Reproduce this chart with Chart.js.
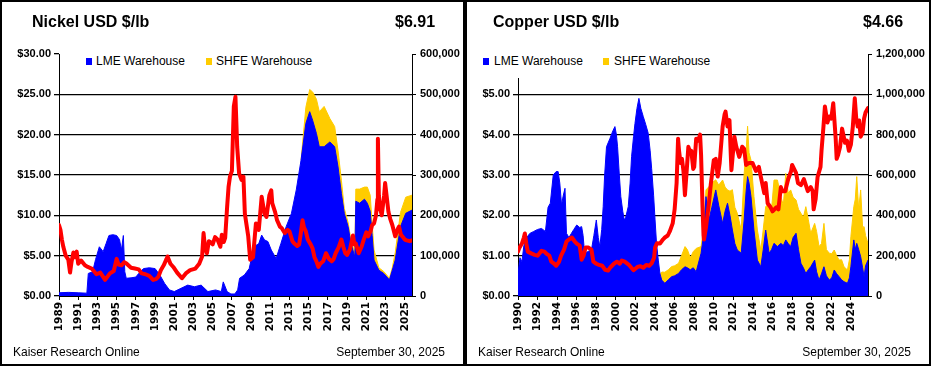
<!DOCTYPE html>
<html>
<head>
<meta charset="utf-8">
<script src="https://cdn.jsdelivr.net/npm/chart.js@4.4.0/dist/chart.umd.min.js"></script>
<style>
  body { margin: 0; background: #fff; font-family: "Liberation Sans", Arial, sans-serif; }
  .panel { position: absolute; top: 0; height: 366px; box-sizing: border-box; border: 2px solid #000; background: #fff; }
  canvas { position: absolute; top: 0; }
  .txt { position: absolute; color: #000; white-space: nowrap; }
  .title { font-size: 16px; font-weight: bold; line-height: 20px; top: 12px; }
  .foot { font-size: 12px; line-height: 14px; top: 345px; }
  .legend { position: absolute; background: #fff; font-size: 12px; line-height: 14px; height: 30px; }
  .legend span.box { position: absolute; width: 6px; height: 7px; top: 11px; }
  .legend span.lab { position: absolute; top: 7px; }
</style>
</head>
<body>
<div class="panel" style="left:0;width:465px"></div>
<div class="panel" style="left:465px;width:466px"></div>
<canvas id="nickel" width="465" height="366" style="left:0"></canvas>
<canvas id="copper" width="466" height="366" style="left:465px"></canvas>

<div class="txt title" style="left:32px">Nickel USD $/lb</div>
<div class="txt title" style="left:395px">$6.91</div>
<div class="txt foot" style="left:13px">Kaiser Research Online</div>
<div class="txt foot" style="right:486px">September 30, 2025</div>
<div class="legend" style="left:80px;top:47px;width:235px">
  <span class="box" style="left:6px;background:#0000ff"></span><span class="lab" style="left:16px">LME Warehouse</span>
  <span class="box" style="left:126px;background:#ffcc00"></span><span class="lab" style="left:136px">SHFE Warehouse</span>
</div>

<div class="txt title" style="left:493px">Copper USD $/lb</div>
<div class="txt title" style="left:863px">$4.66</div>
<div class="txt foot" style="left:478px">Kaiser Research Online</div>
<div class="txt foot" style="right:20px">September 30, 2025</div>
<div class="legend" style="left:477px;top:47px;width:235px;height:31px">
  <span class="box" style="left:6px;background:#0000ff"></span><span class="lab" style="left:17px">LME Warehouse</span>
  <span class="box" style="left:126px;background:#ffcc00"></span><span class="lab" style="left:137px">SHFE Warehouse</span>
</div>

<script>
// ---- Nickel ----
const nickelTicks = [1989, 1991, 1993, 1995, 1997, 1999, 2001, 2003, 2005, 2007, 2009, 2011, 2013, 2015, 2017, 2019, 2021, 2023, 2025];

const nickelPriceYears = [1989.0, 1989.15, 1989.3, 1989.45, 1989.7, 1989.97, 1990.15, 1990.3, 1990.5, 1990.7,
  1990.84, 1991.0, 1991.3, 1991.7, 1992.0, 1992.4, 1992.9, 1993.3, 1993.8, 1994.3,
  1994.7, 1995.0, 1995.2, 1995.5, 1995.8, 1996.05, 1996.5, 1996.9, 1997.3, 1997.6,
  1998.0, 1998.4, 1998.8, 1999.1, 1999.35, 1999.6, 1999.9, 2000.2, 2000.3, 2000.6,
  2000.9, 2001.3, 2001.8, 2002.2, 2002.65, 2003.2, 2003.6, 2003.9, 2004.05, 2004.2,
  2004.4, 2004.6, 2004.75, 2005.0, 2005.25, 2005.5, 2005.8, 2005.95, 2006.15, 2006.3,
  2006.5, 2006.65, 2006.8, 2007.0, 2007.2, 2007.37, 2007.45, 2007.55, 2007.75, 2008.0,
  2008.2, 2008.35, 2008.5, 2008.7, 2008.9, 2009.2, 2009.5, 2009.8, 2010.1, 2010.4,
  2010.6, 2010.9, 2011.1, 2011.2, 2011.5, 2011.7, 2012.0, 2012.2, 2012.5, 2012.8,
  2013.0, 2013.3, 2013.5, 2013.8, 2014.0, 2014.2, 2014.35, 2014.5, 2014.7, 2014.9,
  2015.2, 2015.4, 2015.6, 2015.8, 2016.0, 2016.2, 2016.5, 2016.8, 2017.1, 2017.4,
  2017.6, 2017.8, 2018.1, 2018.4, 2018.6, 2018.8, 2019.0, 2019.3, 2019.6, 2019.75,
  2019.9, 2020.2, 2020.5, 2020.7, 2021.0, 2021.2, 2021.45, 2021.6, 2021.8, 2022.0,
  2022.15, 2022.2, 2022.3, 2022.4, 2022.6, 2022.85, 2022.95, 2023.1, 2023.3, 2023.5,
  2023.7, 2024.0, 2024.3, 2024.4, 2024.6, 2024.8, 2025.0, 2025.2, 2025.5, 2025.75];
const nickelPrice = [8.8, 8.2, 7.0, 6.1, 5.0, 4.5, 2.9, 4.2, 5.4, 4.8,
  5.5, 4.0, 4.4, 3.8, 3.6, 3.4, 2.7, 2.9, 2.0, 2.8,
  3.1, 4.6, 3.9, 3.8, 4.2, 4.0, 3.5, 3.4, 3.3, 2.8,
  2.7, 2.5, 2.0, 2.1, 2.4, 3.2, 3.8, 4.6, 4.9, 4.0,
  3.6, 2.9, 2.2, 2.8, 3.2, 3.4, 4.0, 4.9, 7.8, 6.0,
  5.3, 6.8, 6.7, 6.4, 7.3, 7.0, 6.1, 7.6, 6.7, 7.2,
  11.0, 13.5, 14.8, 15.5, 23.5, 24.7, 22.0, 18.5, 15.2, 14.4,
  14.8, 10.2, 9.0, 7.4, 4.5, 4.8, 9.0, 8.2, 12.3, 10.2,
  9.8, 12.5, 13.1, 11.5, 10.4, 9.4, 8.6, 8.4, 7.8, 8.2,
  8.0, 6.8, 6.5, 6.2, 6.4, 8.0, 9.4, 8.5, 8.0, 7.0,
  6.4, 5.9, 4.8, 4.3, 3.6, 4.0, 4.3, 5.3, 4.6, 4.3,
  4.6, 5.3, 6.0, 7.0, 6.1, 5.3, 5.1, 5.8, 7.5, 6.4,
  6.5, 5.3, 6.1, 6.9, 7.9, 7.4, 8.1, 8.8, 9.0, 10.0,
  12.0, 19.5, 12.5, 11.0, 10.0, 12.5, 14.0, 12.5, 10.4, 9.5,
  8.8, 7.4, 8.4, 8.6, 7.6, 7.3, 7.0, 6.9, 6.8, 6.91];

const nickelStockYears = [1989.0, 1990.0, 1991.0, 1991.9, 1992.05, 1992.5, 1992.8, 1993.2, 1993.6, 1993.9,
  1994.2, 1994.6, 1995.0, 1995.3, 1995.5, 1995.7, 1995.85, 1996.0, 1996.5, 1997.0,
  1997.3, 1997.8, 1998.4, 1999.0, 1999.5, 2000.0, 2000.5, 2001.0, 2001.7, 2002.4,
  2003.1, 2003.8, 2004.5, 2005.3, 2005.9, 2006.1, 2006.5, 2006.9, 2007.3, 2007.6,
  2007.8, 2008.3, 2008.8, 2009.3, 2009.8, 2010.1, 2010.4, 2010.75, 2011.1, 2011.6,
  2012.1, 2012.65, 2013.2, 2013.7, 2014.2, 2014.7, 2015.1, 2015.4, 2015.8, 2016.1,
  2016.6, 2017.2, 2017.7, 2018.05, 2018.4, 2018.7, 2019.1, 2019.4, 2019.8, 2019.9,
  2020.3, 2020.8, 2021.1, 2021.4, 2021.6, 2021.8, 2022.3, 2022.8, 2023.4, 2023.7,
  2024.0, 2024.55, 2025.1, 2025.75];
const nickelLme = [8000, 9000, 8000, 7000, 56000, 60000, 90000, 122000, 110000, 130000,
  150000, 152000, 150000, 140000, 114000, 150000, 60000, 44000, 45000, 47000,
  56000, 68000, 70000, 68000, 52000, 31000, 15000, 11000, 19000, 27000,
  23000, 27000, 11000, 15000, 11000, 35000, 11000, 5000, 5000, 15000,
  44000, 52000, 68000, 122000, 130000, 151000, 139000, 135000, 114000, 93000,
  130000, 172000, 205000, 263000, 337000, 428000, 457000, 436000, 403000, 370000,
  370000, 382000, 370000, 320000, 254000, 205000, 172000, 130000, 97000, 235000,
  230000, 240000, 230000, 210000, 150000, 89000, 64000, 56000, 40000, 64000,
  89000, 172000, 205000, 213000];

const nickelShfeYears = [2014.2, 2014.7, 2015.1, 2015.4, 2015.8, 2016.1, 2016.6, 2017.2, 2017.7, 2018.05,
  2018.4, 2018.7, 2019.1, 2019.4, 2019.8, 2019.9, 2020.3, 2020.8, 2021.1, 2021.4,
  2021.6, 2021.8, 2022.3, 2022.8, 2023.4, 2023.7, 2024.0, 2024.55, 2025.1, 2025.75];
const nickelShfe = [0, 40000, 55000, 70000, 85000, 87000, 100000, 58000, 50000, 40000,
  33000, 12000, 10000, 8000, 10000, 30000, 35000, 30000, 40000, 40000,
  30000, 25000, 6000, 5000, 4000, 6000, 18000, 35000, 40000, 37000];

// ---- Copper ----
const copperTicks = [1990, 1992, 1994, 1996, 1998, 2000, 2002, 2004, 2006, 2008, 2010, 2012, 2014, 2016, 2018, 2020, 2022, 2024];

const copperPriceYears = [1990.0, 1990.15, 1990.4, 1990.6, 1990.7, 1990.85, 1991.0, 1991.4, 1991.7, 1992.0,
  1992.4, 1992.7, 1992.9, 1993.2, 1993.4, 1993.7, 1993.9, 1994.2, 1994.4, 1994.7,
  1994.95, 1995.2, 1995.5, 1995.8, 1996.0, 1996.3, 1996.5, 1996.7, 1996.9, 1997.2,
  1997.5, 1997.7, 1998.0, 1998.2, 1998.6, 1998.9, 1999.2, 1999.4, 1999.8, 2000.1,
  2000.4, 2000.6, 2000.9, 2001.3, 2001.8, 2002.2, 2002.5, 2002.8, 2003.1, 2003.4,
  2003.65, 2003.9, 2004.0, 2004.2, 2004.5, 2004.8, 2005.0, 2005.3, 2005.5, 2005.8,
  2006.0, 2006.2, 2006.35, 2006.45, 2006.6, 2006.75, 2006.9, 2007.05, 2007.2, 2007.4,
  2007.6, 2007.7, 2007.9, 2008.0, 2008.2, 2008.4, 2008.6, 2008.7, 2008.85, 2008.95,
  2009.0, 2009.2, 2009.5, 2009.7, 2010.0, 2010.2, 2010.4, 2010.6, 2010.9, 2011.1,
  2011.2, 2011.4, 2011.6, 2011.75, 2011.8, 2012.1, 2012.3, 2012.6, 2012.9, 2013.1,
  2013.3, 2013.6, 2013.95, 2014.3, 2014.6, 2014.8, 2015.15, 2015.3, 2015.5, 2015.8,
  2016.0, 2016.4, 2016.6, 2016.85, 2017.0, 2017.3, 2017.6, 2017.9, 2018.0, 2018.4,
  2018.6, 2018.9, 2019.2, 2019.4, 2019.6, 2019.9, 2020.1, 2020.2, 2020.4, 2020.6,
  2020.9, 2021.0, 2021.2, 2021.35, 2021.6, 2021.8, 2022.0, 2022.2, 2022.45, 2022.55,
  2022.7, 2022.9, 2023.1, 2023.4, 2023.6, 2023.8, 2024.0, 2024.2, 2024.4, 2024.55,
  2024.7, 2024.85, 2025.0, 2025.2, 2025.35, 2025.5, 2025.75];
const copperPrice = [1.10, 1.20, 1.30, 1.45, 1.55, 1.30, 1.10, 1.05, 1.02, 1.00,
  1.12, 1.10, 1.05, 1.00, 0.85, 0.80, 0.75, 0.85, 1.00, 1.15,
  1.35, 1.40, 1.45, 1.35, 1.30, 1.25, 0.90, 1.00, 1.20, 1.20,
  1.15, 0.85, 0.80, 0.78, 0.75, 0.65, 0.63, 0.70, 0.80, 0.85,
  0.80, 0.88, 0.85, 0.78, 0.64, 0.72, 0.74, 0.70, 0.77, 0.75,
  0.81, 0.95, 1.20, 1.31, 1.30, 1.40, 1.45, 1.50, 1.60, 1.80,
  2.15, 2.80, 3.90, 3.60, 3.30, 3.40, 3.10, 2.50, 3.00, 3.70,
  3.55, 3.60, 3.15, 3.20, 3.90, 3.85, 4.00, 3.50, 2.20, 1.50,
  1.40, 1.70, 2.30, 2.79, 3.37, 3.40, 2.96, 3.30, 4.20, 4.50,
  4.57, 4.20, 4.36, 3.40, 3.12, 3.95, 3.70, 3.45, 3.70, 3.65,
  3.25, 3.30, 3.30, 3.10, 3.20, 2.96, 2.55, 2.80, 2.30, 2.20,
  2.10, 2.20, 2.15, 2.70, 2.60, 2.60, 2.90, 3.10, 3.25, 3.05,
  2.80, 2.75, 2.90, 2.75, 2.60, 2.70, 2.60, 2.15, 2.40, 2.95,
  3.20, 3.60, 4.20, 4.70, 4.30, 4.45, 4.40, 4.78, 3.90, 3.40,
  3.50, 3.70, 4.15, 3.80, 3.85, 3.60, 3.75, 4.20, 4.90, 4.40,
  4.20, 4.35, 3.95, 4.05, 4.40, 4.55, 4.66];

const copperStockYears = [1990.0, 1990.2, 1990.4, 1990.6, 1990.9, 1991.2, 1991.6, 1992.0, 1992.4, 1992.8,
  1993.07, 1993.3, 1993.6, 1993.9, 1994.1, 1994.27, 1994.45, 1994.6, 1994.8, 1994.95,
  1995.2, 1995.46, 1995.7, 1996.0, 1996.3, 1996.5, 1996.65, 1996.8, 1997.1, 1997.5,
  1997.75, 1998.0, 1998.2, 1998.36, 1998.55, 1998.7, 1998.85, 1999.04, 1999.4, 1999.7,
  1999.9, 2000.05, 2000.17, 2000.35, 2000.5, 2000.7, 2000.85, 2001.0, 2001.26, 2001.45,
  2001.6, 2001.8, 2001.95, 2002.15, 2002.35, 2002.55, 2002.8, 2003.05, 2003.3, 2003.5,
  2003.65, 2003.85, 2004.0, 2004.15, 2004.33, 2004.5, 2004.68, 2005.0, 2005.35, 2005.7,
  2006.0, 2006.4, 2006.7, 2007.06, 2007.3, 2007.6, 2007.9, 2008.2, 2008.7, 2008.95,
  2009.2, 2009.5, 2009.8, 2010.2, 2010.5, 2010.9, 2011.15, 2011.4, 2011.65, 2011.9,
  2012.15, 2012.4, 2012.8, 2013.1, 2013.3, 2013.45, 2013.6, 2013.8, 2014.1, 2014.45,
  2014.8, 2015.05, 2015.3, 2015.65, 2015.9, 2016.15, 2016.5, 2016.85, 2017.1, 2017.35,
  2017.6, 2017.85, 2018.1, 2018.4, 2018.65, 2018.9, 2019.15, 2019.4, 2019.65, 2019.9,
  2020.3, 2020.5, 2020.75, 2021.0, 2021.25, 2021.5, 2021.8, 2022.05, 2022.3, 2022.55,
  2022.8, 2023.05, 2023.3, 2023.65, 2023.85, 2024.0, 2024.3, 2024.45, 2024.6, 2024.8,
  2025.0, 2025.2, 2025.35, 2025.5, 2025.75];
const copperLme = [110000, 190000, 170000, 250000, 290000, 310000, 320000, 330000, 335000, 320000,
  440000, 460000, 600000, 617000, 617000, 560000, 450000, 493000, 534000, 311000,
  290000, 311000, 330000, 352000, 340000, 344000, 300000, 212000, 220000, 228000,
  300000, 377000, 290000, 245000, 330000, 443000, 600000, 740000, 782000, 820000,
  840000, 800000, 740000, 600000, 493000, 420000, 377000, 390000, 443000, 560000,
  691000, 790000, 856000, 930000, 980000, 930000, 889000, 850000, 807000, 720000,
  633000, 500000, 377000, 260000, 178000, 110000, 79000, 63000, 80000, 96000,
  100000, 112000, 130000, 145000, 140000, 130000, 140000, 120000, 212000, 300000,
  493000, 377000, 440000, 526000, 450000, 360000, 420000, 460000, 400000, 327000,
  260000, 228000, 212000, 377000, 520000, 592000, 560000, 493000, 327000, 178000,
  145000, 230000, 327000, 212000, 230000, 261000, 245000, 261000, 250000, 278000,
  260000, 245000, 290000, 311000, 230000, 162000, 140000, 112000, 130000, 145000,
  178000, 120000, 79000, 110000, 145000, 100000, 79000, 90000, 129000, 110000,
  96000, 80000, 71000, 63000, 90000, 145000, 278000, 230000, 261000, 230000,
  195000, 140000, 96000, 150000, 178000];

const copperShfeYears = [2004.5, 2004.68, 2005.0, 2005.35, 2005.7,
  2006.0, 2006.4, 2006.7, 2007.06, 2007.3, 2007.6, 2007.9, 2008.2, 2008.7, 2008.95,
  2009.2, 2009.5, 2009.8, 2010.2, 2010.5, 2010.9, 2011.15, 2011.4, 2011.65, 2011.9,
  2012.15, 2012.4, 2012.8, 2013.1, 2013.3, 2013.45, 2013.6, 2013.8, 2014.1, 2014.45,
  2014.8, 2015.05, 2015.3, 2015.65, 2015.9, 2016.15, 2016.5, 2016.85, 2017.1, 2017.35,
  2017.6, 2017.85, 2018.1, 2018.4, 2018.65, 2018.9, 2019.15, 2019.4, 2019.65, 2019.9,
  2020.3, 2020.5, 2020.75, 2021.0, 2021.25, 2021.5, 2021.8, 2022.05, 2022.3, 2022.55,
  2022.8, 2023.05, 2023.3, 2023.65, 2023.85, 2024.0, 2024.3, 2024.45, 2024.6, 2024.8,
  2025.0, 2025.2, 2025.35, 2025.5, 2025.75];
const copperShfe = [0, 40000, 55000, 50000, 50000,
  50000, 50000, 70000, 100000, 90000, 60000, 80000, 116000, 33000, 30000,
  33000, 165000, 120000, 50000, 100000, 215000, 120000, 66000, 120000, 200000,
  180000, 182000, 115000, 231000, 200000, 250000, 150000, 181000, 166000, 149000,
  83000, 100000, 116000, 248000, 200000, 314000, 330000, 232000, 200000, 330000,
  250000, 281000, 200000, 165000, 200000, 248000, 250000, 331000, 250000, 166000,
  182000, 200000, 166000, 150000, 215000, 130000, 133000, 120000, 99000, 90000,
  82000, 100000, 74000, 66000, 90000, 149000, 165000, 250000, 331000, 200000,
  331000, 200000, 248000, 150000, 83000];

const pts = (xs, ys) => xs.map((x, i) => ({ x: x, y: ys[i] }));
const tickFont = { family: '"Liberation Sans", Arial, sans-serif', size: 11, weight: 'bold' };
const yearFont = { family: '"DejaVu Sans", Verdana, sans-serif', size: 10.5, weight: 'bold' };

function makeChart(id, o) {
  const ctx = document.getElementById(id).getContext('2d');
  return new Chart(ctx, {
    type: 'line',
    data: {
      datasets: [
        { label: 'Price', data: pts(o.priceYears, o.price), yAxisID: 'y', borderColor: '#ff0000',
          borderWidth: 4, borderJoinStyle: 'round', borderCapStyle: 'round', fill: false, order: 0 },
        { label: 'LME Warehouse', data: pts(o.stockYears, o.lme), yAxisID: 'y2', borderColor: '#0000ff',
          backgroundColor: '#0000ff', borderWidth: 1, fill: 'origin', order: 1 },
        { label: 'SHFE Warehouse', data: pts(o.shfeYears, o.shfe), yAxisID: 'y2', borderColor: '#ffcc00',
          backgroundColor: '#ffcc00', borderWidth: 1, fill: 'origin', order: 2 }
      ]
    },
    options: {
      responsive: false,
      animation: false,
      layout: { padding: { top: 54, left: 0, right: 0, bottom: 0 } },
      elements: { point: { radius: 0 }, line: { tension: 0 } },
      plugins: { legend: { display: false }, tooltip: { enabled: false } },
      scales: {
        x: {
          type: 'linear', min: o.xMin, max: 2025.75,
          afterBuildTicks: s => { s.ticks = o.ticks.map(v => ({ value: v })); },
          afterFit: s => { s.height = 70; },
          grid: { drawOnChartArea: false, color: '#000', tickLength: 4 },
          border: { color: '#000' },
          ticks: { autoSkip: false, minRotation: 90, maxRotation: 90, padding: 2, color: '#000',
                   font: yearFont, callback: v => String(v) }
        },
        y: {
          position: 'left', min: 0, max: o.yMax,
          afterFit: s => { s.width = o.leftW; },
          grid: { color: c => c.tick.value === o.yMax ? 'rgba(0,0,0,0)' : '#000', tickColor: '#000', tickLength: 5, lineWidth: 1.3 },
          border: { color: '#000' },
          ticks: { stepSize: o.yStep, padding: 3, color: '#000', font: tickFont,
                   callback: v => (o.hideTop && v === o.yMax) ? '' : '$' + v.toFixed(2) }
        },
        y2: {
          position: 'right', min: 0, max: o.y2Max, stacked: true,
          afterFit: s => { s.width = o.rightW; },
          grid: { drawOnChartArea: false, color: '#000', tickLength: 4 },
          border: { color: '#000' },
          ticks: { stepSize: o.y2Step, padding: 4, color: '#000', font: tickFont,
                   callback: v => v.toLocaleString('en-US') }
        }
      }
    }
  });
}

makeChart('nickel', {
  priceYears: nickelPriceYears, price: nickelPrice,
  stockYears: nickelStockYears, lme: nickelLme,
  shfeYears: nickelShfeYears, shfe: nickelShfe,
  ticks: nickelTicks, xMin: 1989,
  yMax: 30, yStep: 5, y2Max: 600000, y2Step: 100000,
  leftW: 59, rightW: 53, hideTop: false
});

makeChart('copper', {
  priceYears: copperPriceYears, price: copperPrice,
  stockYears: copperStockYears, lme: copperLme,
  shfeYears: copperShfeYears, shfe: copperShfe,
  ticks: copperTicks, xMin: 1990,
  yMax: 6, yStep: 1, y2Max: 1200000, y2Step: 200000,
  leftW: 53, rightW: 63, hideTop: true
});
</script>
</body>
</html>
